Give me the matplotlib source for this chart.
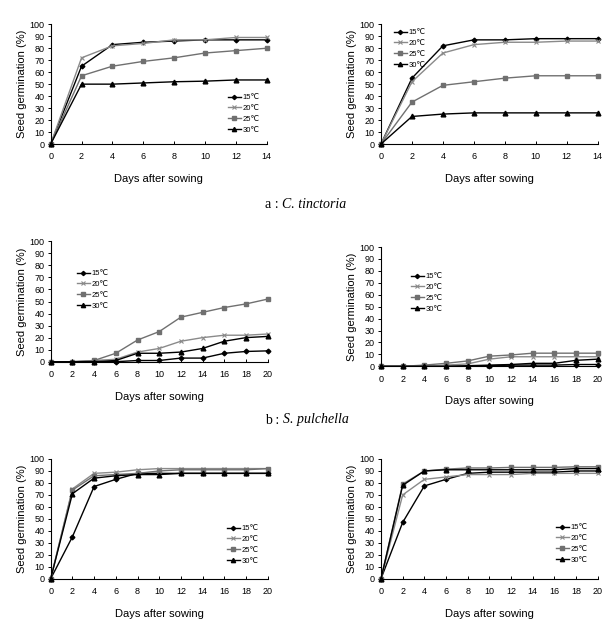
import matplotlib
matplotlib.use("Agg")
import matplotlib.pyplot as plt

plt.rcParams['font.family'] = ['Liberation Sans', 'DejaVu Sans']

days14 = [0, 2, 4, 6, 8, 10, 12, 14]
days20 = [0, 2, 4, 6, 8, 10, 12, 14, 16, 18, 20]
labels = ['15℃', '20℃', '25℃', '30℃']

# a: C. tinctoria
a1_15 = [0, 65, 83, 85, 86, 87, 87, 87]
a1_20 = [0, 72, 82, 84, 87, 87, 89, 89]
a1_25 = [0, 57, 65, 69, 72, 76, 78, 80]
a1_30 = [0, 50, 50, 51, 52, 52.5, 53.5, 53.5]

a2_15 = [0, 55, 82, 87, 87, 88, 88, 88]
a2_20 = [0, 52, 76, 83, 85, 85, 86, 86]
a2_25 = [0, 35, 49, 52, 55, 57, 57, 57]
a2_30 = [0, 23, 25, 26, 26, 26, 26, 26]

# b: S. pulchella
b1_15 = [0, 0, 0, 0, 1, 1, 3, 3, 7, 8.5, 9]
b1_20 = [0, 0, 1, 2, 8, 11, 17, 20, 22, 22, 23]
b1_25 = [0, 0, 1, 7, 18, 25, 37, 41, 45, 48, 52]
b1_30 = [0, 0, 0, 1, 7, 7, 8, 11, 17, 20, 21]

b2_15 = [0, 0, 0, 0, 0, 0.5, 1, 1, 1, 1.5, 1.5]
b2_20 = [0, 0, 0, 1, 2, 6, 8, 8, 8, 8, 8]
b2_25 = [0, 0, 1, 2.5, 4.5, 8.5, 9.5, 11, 11, 11, 11]
b2_30 = [0, 0, 0, 0, 0.5, 1, 1.5, 2.5, 2.5, 5, 6]

# c
c1_15 = [0, 35, 77, 83, 88, 88, 88, 88, 88, 88, 88]
c1_20 = [0, 75, 88, 89, 91, 92, 92, 92, 92, 92, 92]
c1_25 = [0, 74, 86, 87, 88, 90, 91, 91, 91, 91, 92]
c1_30 = [0, 71, 84, 86, 87, 87, 88, 88, 88, 88, 88]

c2_15 = [0, 47, 77.5, 83, 88, 89, 89, 89, 89, 90, 90]
c2_20 = [0, 70, 83, 85, 87, 87, 87, 88, 88, 88, 88]
c2_25 = [0, 79, 90, 91.5, 92.5, 92.5, 93, 93, 93, 93.5, 93.5]
c2_30 = [0, 78, 90, 91, 91, 91, 91, 91, 91, 92, 92]

styles = [
    dict(color='black', marker='D', markersize=2.4, lw=1.0),
    dict(color='#8a8a8a', marker='x', markersize=3.2, mew=0.8, lw=1.0),
    dict(color='#707070', marker='s', markersize=3.2, lw=1.0),
    dict(color='black', marker='^', markersize=3.4, lw=1.0),
]

fig = plt.figure(figsize=(6.07, 6.26), dpi=100)
W, H = 607.0, 626.0

def add_ax(left, right, top, bottom):
    return fig.add_axes([left / W, 1 - bottom / H, (right - left) / W, (bottom - top) / H])

panels = [
    (add_ax(50.7, 266.7, 24.3, 144), days14, [a1_15, a1_20, a1_25, a1_30], (228, 94)),
    (add_ax(381, 597.7, 24.3, 144), days14, [a2_15, a2_20, a2_25, a2_30], (394, 29)),
    (add_ax(50.7, 267.7, 241.3, 361.7), days20, [b1_15, b1_20, b1_25, b1_30], (77, 270)),
    (add_ax(381, 597.7, 247, 366.3), days20, [b2_15, b2_20, b2_25, b2_30], (411, 273)),
    (add_ax(50.7, 267.7, 459, 578.7), days20, [c1_15, c1_20, c1_25, c1_30], (227, 525)),
    (add_ax(381, 597.7, 459, 578.7), days20, [c2_15, c2_20, c2_25, c2_30], (556, 524)),
]

for ax, days, series, legpos in panels:
    for vals, st, lab in zip(series, styles, labels):
        ax.plot(days, vals, label=lab, **st)
    ax.set_xlim(0, days[-1])
    ax.set_ylim(0, 100)
    ax.set_xticks(days)
    ax.set_yticks(range(0, 101, 10))
    ax.spines['top'].set_visible(False)
    ax.spines['right'].set_visible(False)
    ax.spines['left'].set_linewidth(0.8)
    ax.spines['bottom'].set_linewidth(0.8)
    ax.tick_params(axis='y', direction='out', length=2.5, width=0.7, labelsize=6.5, pad=2)
    ax.tick_params(axis='x', direction='in', length=2.5, width=0.7, labelsize=6.5, pad=6)
    ax.set_ylabel('Seed germination (%)', fontsize=8, labelpad=2)
    ax.set_xlabel('Days after sowing', fontsize=8, labelpad=9)
    for ln in ax.lines:
        ln.set_clip_on(False)
    lx, ly = legpos
    pos = ax.get_position()
    ax.legend(loc='upper left',
              bbox_to_anchor=((lx - pos.x0 * W) / (pos.width * W),
                              1 - (ly - (1 - pos.y1) * H) / (pos.height * H)),
              frameon=False, fontsize=5.5, handlelength=1.7, handletextpad=0.2,
              labelspacing=0.45, borderpad=0, borderaxespad=0, markerscale=0.9)

cap_font = 'Liberation Serif'
fig.text(282 / W, 1 - 204 / H, 'a : ', fontsize=10, family=cap_font, ha='right', va='center')
fig.text(282 / W, 1 - 204 / H, 'C. tinctoria', fontsize=10, family=cap_font, style='italic', ha='left', va='center')
fig.text(283 / W, 1 - 420 / H, 'b : ', fontsize=10, family=cap_font, ha='right', va='center')
fig.text(283 / W, 1 - 420 / H, 'S. pulchella', fontsize=10, family=cap_font, style='italic', ha='left', va='center')

fig.savefig('out.png', dpi=100)
